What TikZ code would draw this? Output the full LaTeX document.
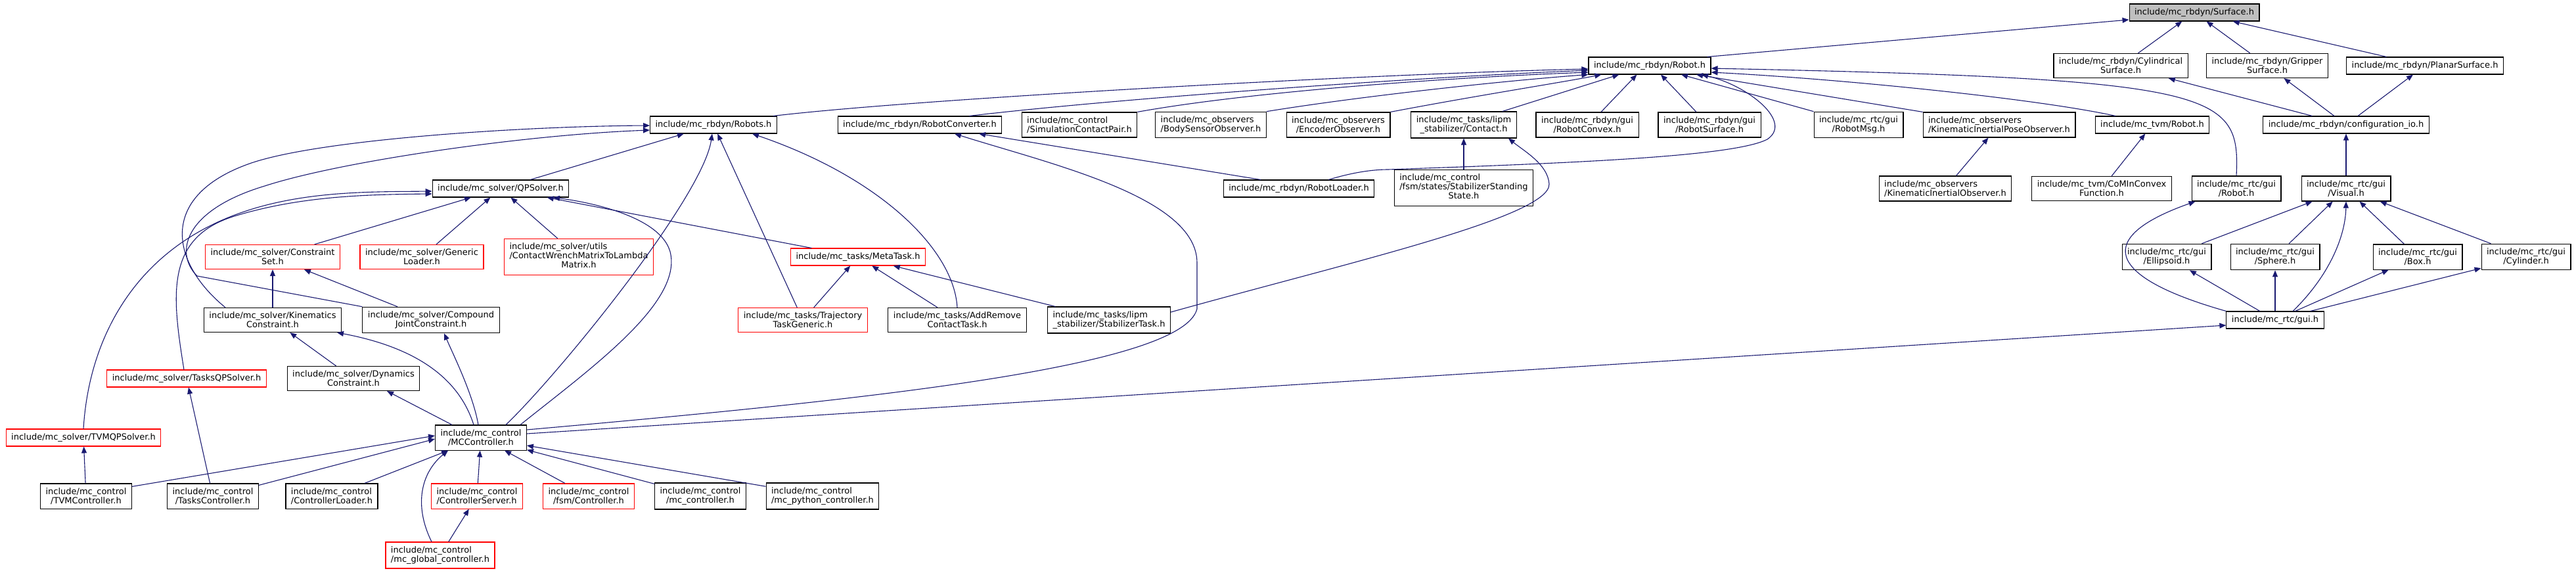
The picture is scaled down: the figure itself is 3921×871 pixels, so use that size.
\documentclass[tikz,border=0pt]{standalone}
\usepackage{fontspec}
\setmainfont{DejaVu Sans}
\usepackage{tikz}
\usetikzlibrary{arrows.meta}
\definecolor{edgeBlue}{HTML}{191970}
\definecolor{rootGray}{HTML}{BFBFBF}

\begin{document}
\begin{tikzpicture}[x=1pt, y=-1pt, >={Triangle[length=10pt,width=8pt]},
    hdr/.style={draw=black, fill=white, line width=1.1pt, inner xsep=8pt, inner ysep=6.5pt,
      minimum height=25pt, align=center, font=\fontsize{13}{14}\selectfont},
    hdrred/.style={hdr, draw=red},
    incl/.style={->, draw=edgeBlue, line width=1.1pt}]
  \useasboundingbox (0,0) rectangle (3921,871);

  % Surface y sus cabeceras
  \node[hdr, fill=rootGray] (surface) at (3340,19) {include/mc\_rbdyn/Surface.h};
  \node[hdr] (robot) at (2511,100) {include/mc\_rbdyn/Robot.h};
  \node[hdr] (cylsurf) at (3228,100) {include/mc\_rbdyn/Cylindrical\\Surface.h};
  \node[hdr] (gripsurf) at (3451,100) {include/mc\_rbdyn/Gripper\\Surface.h};
  \node[hdr] (planarsurf) at (3691,100) {include/mc\_rbdyn/PlanarSurface.h};

  % Fila de Robot.h
  \node[hdr] (robots) at (1086,190) {include/mc\_rbdyn/Robots.h};
  \node[hdr] (robotconv) at (1400,190) {include/mc\_rbdyn/RobotConverter.h};
  \node[hdr, align=left] (simpair) at (1643,190) {include/mc\_control\\/SimulationContactPair.h};
  \node[hdr, align=left] (bodyobs) at (1843,190) {include/mc\_observers\\/BodySensorObserver.h};
  \node[hdr] (encobs) at (2037,190) {include/mc\_observers\\/EncoderObserver.h};
  \node[hdr] (lipmcontact) at (2228,190) {include/mc\_tasks/lipm\\\_stabilizer/Contact.h};
  \node[hdr] (robotconvex) at (2416,190) {include/mc\_rbdyn/gui\\/RobotConvex.h};
  \node[hdr] (robotsurf) at (2602,190) {include/mc\_rbdyn/gui\\/RobotSurface.h};
  \node[hdr] (robotmsg) at (2829,190) {include/mc\_rtc/gui\\/RobotMsg.h};
  \node[hdr, align=left] (kipobs) at (3043,190) {include/mc\_observers\\/KinematicInertialPoseObserver.h};
  \node[hdr] (tvmrobot) at (3276,190) {include/mc\_tvm/Robot.h};
  \node[hdr] (configio) at (3571,190) {include/mc\_rbdyn/configuration\_io.h};

  % Solver, loader, gui
  \node[hdr] (qpsolver) at (762,287) {include/mc\_solver/QPSolver.h};
  \node[hdr] (robotloader) at (1977,287) {include/mc\_rbdyn/RobotLoader.h};
  \node[hdr] (standing) at (2228,286) {\begin{tabular}{@{}l@{}}include/mc\_control\\/fsm/states/StabilizerStanding\\\multicolumn{1}{@{}c@{}}{State.h}\end{tabular}};
  \node[hdr, align=left] (kiobs) at (2961,287) {include/mc\_observers\\/KinematicInertialObserver.h};
  \node[hdr] (cominconvex) at (3199,287) {include/mc\_tvm/CoMInConvex\\Function.h};
  \node[hdr] (guirobot) at (3404,287) {include/mc\_rtc/gui\\/Robot.h};
  \node[hdr] (visual) at (3571,287) {include/mc\_rtc/gui\\/Visual.h};

  \node[hdrred] (constrset) at (415,391) {include/mc\_solver/Constraint\\Set.h};
  \node[hdrred] (genloader) at (642,391) {include/mc\_solver/Generic\\Loader.h};
  \node[hdrred] (cwmatrix) at (881,391) {\begin{tabular}{@{}l@{}}include/mc\_solver/utils\\/ContactWrenchMatrixToLambda\\\multicolumn{1}{@{}c@{}}{Matrix.h}\end{tabular}};
  \node[hdrred] (metatask) at (1306,391) {include/mc\_tasks/MetaTask.h};
  \node[hdr] (ellipsoid) at (3298,391) {include/mc\_rtc/gui\\/Ellipsoid.h};
  \node[hdr] (sphere) at (3463,391) {include/mc\_rtc/gui\\/Sphere.h};
  \node[hdr] (guibox) at (3680,391) {include/mc\_rtc/gui\\/Box.h};
  \node[hdr] (guicyl) at (3845,391) {include/mc\_rtc/gui\\/Cylinder.h};

  \node[hdr] (kinconstr) at (415,487) {include/mc\_solver/Kinematics\\Constraint.h};
  \node[hdr] (compound) at (656,487) {include/mc\_solver/Compound\\JointConstraint.h};
  \node[hdrred] (trajectory) at (1222,487) {include/mc\_tasks/Trajectory\\TaskGeneric.h};
  \node[hdr] (addremove) at (1457,487) {include/mc\_tasks/AddRemove\\ContactTask.h};
  \node[hdr, align=left] (stabtask) at (1688,487) {include/mc\_tasks/lipm\\\_stabilizer/StabilizerTask.h};
  \node[hdr] (guih) at (3463,487) {include/mc\_rtc/gui.h};

  \node[hdrred] (tasksqp) at (284,576) {include/mc\_solver/TasksQPSolver.h};
  \node[hdr] (dynconstr) at (538,576) {include/mc\_solver/Dynamics\\Constraint.h};

  % Controladores
  \node[hdrred] (tvmqp) at (127,666) {include/mc\_solver/TVMQPSolver.h};
  \node[hdr] (mcctrl) at (732,666) {include/mc\_control\\/MCController.h};
  \node[hdr] (tvmctrl) at (131,755) {include/mc\_control\\/TVMController.h};
  \node[hdr] (tasksctrl) at (324,755) {include/mc\_control\\/TasksController.h};
  \node[hdr, align=left] (ctrlloader) at (505,755) {include/mc\_control\\/ControllerLoader.h};
  \node[hdrred, align=left] (ctrlserver) at (726,755) {include/mc\_control\\/ControllerServer.h};
  \node[hdrred] (fsmctrl) at (896,755) {include/mc\_control\\/fsm/Controller.h};
  \node[hdr] (mcctrlh) at (1066,755) {include/mc\_control\\/mc\_controller.h};
  \node[hdr, align=left] (pyctrl) at (1252,755) {include/mc\_control\\/mc\_python\_controller.h};
  \node[hdrred, align=left] (globalctrl) at (670,845) {include/mc\_control\\/mc\_global\_controller.h};

  % Conexiones hacia Surface
  \draw[incl] ([xshift=-6pt]robot.north east) -- ([yshift=-11pt]surface.west);
  \draw[incl] (cylsurf) -- (surface);
  \draw[incl] (gripsurf) -- (surface);
  \draw[incl] (planarsurf) -- (surface);
  \draw[incl] (configio) -- (cylsurf);
  \draw[incl] (configio) -- (gripsurf);
  \draw[incl] (configio) -- (planarsurf);
  \draw[incl] (visual) -- (configio);

  % Conexiones hacia Robot.h
  \draw[incl] ([xshift=-6pt]robots.north east) .. controls (1400,150) and (2100,112) .. ([yshift=-5pt]robot.west);
  \draw[incl] ([xshift=-50pt]robotconv.north east) .. controls (1700,150) and (2150,118) .. ([yshift=-7pt]robot.west);
  \draw[incl] (simpair.north east) .. controls (1900,140) and (2200,118) .. ([yshift=-10pt]robot.west);
  \draw[incl] (bodyobs.north east) .. controls (2080,145) and (2300,122) .. (robot.south west);
  \draw[incl] (encobs.north east) .. controls (2250,145) and (2380,125) .. ([xshift=20pt]robot.south west);
  \draw[incl] ([xshift=-22pt]lipmcontact.north east) -- ([xshift=47pt]robot.south west);
  \draw[incl] ([xshift=21pt]robotconvex.north) -- ([xshift=74pt]robot.south west);
  \draw[incl] ([xshift=-20pt]robotsurf.north) -- ([xshift=17pt]robot.south);
  \draw[incl] (robotmsg.north west) -- ([xshift=48pt]robot.south);
  \draw[incl] (kipobs.north west) -- ([xshift=71pt]robot.south);
  \draw[incl] ([xshift=-56pt]tvmrobot.north) .. controls (3100,150) and (2800,120) .. ([yshift=-10pt]robot.east);
  \draw[incl] (guirobot.north) .. controls (3410,140) and (3380,120) .. ([yshift=-4pt]robot.east);
  \draw[incl] ([xshift=-70pt]robotloader.north east) .. controls (2060,262) and (2090,258) .. (2113,258)
    .. controls (2400,248) and (2640,238) .. (2690,212) .. controls (2730,185) and (2660,130) .. ([xshift=79pt]robot.south);

  % Conexiones hacia Robots.h
  \draw[incl] (qpsolver) -- (robots);
  \draw[incl] (trajectory) -- (robots);
  \draw[incl] (addremove.north) .. controls (1452,380) and (1340,270) .. ([xshift=59pt]robots.south);
  \draw[incl] ([xshift=-72pt]kinconstr.north) .. controls (260,400) and (240,300) .. (377,250)
    .. controls (480,212) and (800,192) .. ([yshift=-1pt]robots.west);
  \draw[incl] (compound.north west) -- (300,420) .. controls (265,385) and (280,320) .. (403,283)
    .. controls (520,245) and (800,205) .. ([yshift=-8pt]robots.west);

  % MCController hacia arriba
  \draw[incl] ([xshift=38pt]mcctrl.north) .. controls (850,570) and (1070,300) .. ([xshift=-2pt]robots.south);
  \draw[incl] ([xshift=60pt]mcctrl.north) .. controls (900,560) and (1040,460) .. (1020,383)
    .. controls (1005,330) and (900,308) .. ([xshift=80pt]qpsolver.south);
  \draw[incl] ([xshift=-11pt]mcctrl.north) .. controls (700,580) and (640,530) .. ([xshift=98pt]kinconstr.south);
  \draw[incl] ([xshift=-4pt]mcctrl.north) .. controls (720,600) and (690,540) .. ([xshift=20pt]compound.south);
  \draw[incl] ([xshift=-44pt]mcctrl.north) -- ([xshift=51pt]dynconstr.south);
  \draw[incl] ([yshift=12pt]mcctrl.east) .. controls (1300,610) and (1800,560) .. (1822,470) -- (1822,400)
    .. controls (1822,300) and (1600,250) .. ([xshift=53pt]robotconv.south);
  \draw[incl] ([yshift=6pt]mcctrl.east) -- ([yshift=-8pt]guih.west);

  % Conexiones hacia QPSolver
  \draw[incl] (constrset) -- (qpsolver);
  \draw[incl] (genloader) -- (qpsolver);
  \draw[incl] (cwmatrix) -- (qpsolver);
  \draw[incl] (metatask) -- (qpsolver);
  \draw[incl] (tvmqp.north) .. controls (135,520) and (200,390) .. (350,330)
    .. controls (450,290) and (560,292) .. ([yshift=-4pt]qpsolver.west);
  \draw[incl] ([xshift=-4pt]tasksqp.north) .. controls (262,450) and (250,360) .. (360,328)
    .. controls (460,298) and (560,296) .. ([yshift=-8pt]qpsolver.west);

  % Restricciones
  \draw[incl] (kinconstr) -- (constrset);
  \draw[incl] (compound) -- (constrset);
  \draw[incl] (dynconstr) -- (kinconstr);

  % MetaTask y lipm
  \draw[incl] (trajectory) -- (metatask);
  \draw[incl] (addremove) -- (metatask);
  \draw[incl] (stabtask) -- (metatask);
  \draw[incl] ([yshift=12pt]stabtask.east) .. controls (2050,400) and (2360,330) .. (2358,280)
    .. controls (2356,250) and (2320,230) .. ([xshift=68pt]lipmcontact.south);
  \draw[incl] (standing) -- (lipmcontact);
  \draw[incl] ([xshift=-58pt]robotloader.north) -- ([xshift=90pt]robotconv.south);

  % Observadores y tvm
  \draw[incl] (kiobs) -- (kipobs);
  \draw[incl] (cominconvex) -- (tvmrobot);

  % gui
  \draw[incl] (guih.north west) .. controls (3200,420) and (3190,360) .. ([xshift=6pt]guirobot.south west);
  \draw[incl] (guih) -- (ellipsoid);
  \draw[incl] (guih) -- (sphere);
  \draw[incl] (guih) -- (guibox);
  \draw[incl] (guih) -- (guicyl);
  \draw[incl] ([xshift=27pt]guih.north) .. controls (3545,420) and (3570,360) .. (visual.south);
  \draw[incl] (ellipsoid) -- (visual);
  \draw[incl] (sphere) -- (visual);
  \draw[incl] (guibox) -- (visual);
  \draw[incl] (guicyl) -- (visual);

  % Controladores hacia MCController
  \draw[incl] ([yshift=-5pt]tvmctrl.north east) -- ([yshift=3pt]mcctrl.west);
  \draw[incl] ([yshift=-3pt]tasksctrl.north east) -- ([yshift=-2pt]mcctrl.west);
  \draw[incl] (ctrlloader) -- (mcctrl);
  \draw[incl] (ctrlserver) -- (mcctrl);
  \draw[incl] (fsmctrl) -- (mcctrl);
  \draw[incl] (mcctrlh) -- (mcctrl);
  \draw[incl] (pyctrl) -- (mcctrl);
  \draw[incl] ([xshift=-13pt]globalctrl.north) .. controls (630,770) and (640,720) .. ([xshift=-50pt]mcctrl.south);
  \draw[incl] (globalctrl) -- (ctrlserver);
  \draw[incl] (tvmctrl) -- (tvmqp);
  \draw[incl] (tasksctrl) -- (tasksqp);
\end{tikzpicture}
\end{document}
